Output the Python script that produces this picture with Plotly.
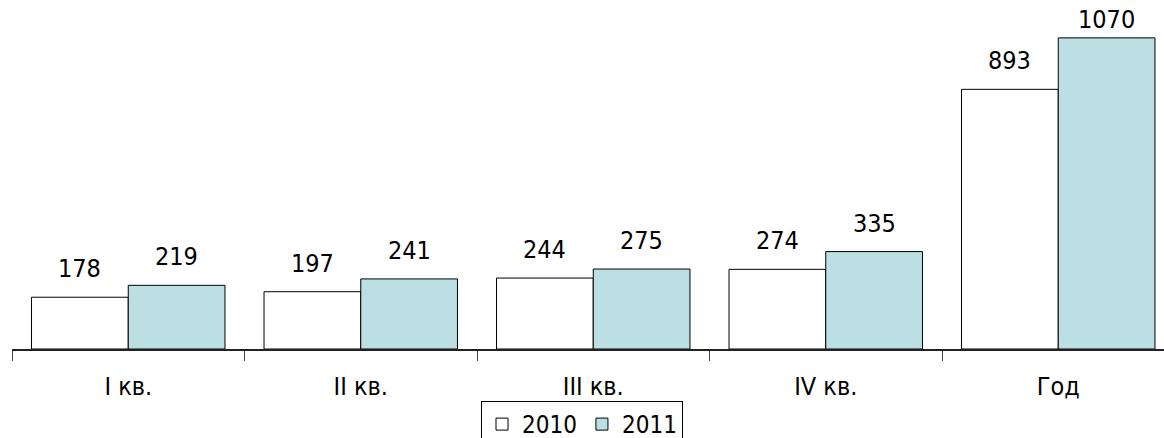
import plotly.graph_objects as go

categories = ["I кв.", "II кв.", "III кв.", "IV кв.", "Год"]
values_2010 = [178, 197, 244, 274, 893]
values_2011 = [219, 241, 275, 335, 1070]
series_names = ["2010", "2011"]

FONT = "DejaVu Sans Condensed, Liberation Sans, sans-serif"
BARGAP = 0.168
BAR_W = (1 - BARGAP) / 2
YMAX = 341 / 0.2925

fig = go.Figure()
fig.add_trace(go.Bar(
    x=categories, y=values_2010, name=series_names[0],
    marker=dict(color="white", line=dict(color="black", width=1)),
))
fig.add_trace(go.Bar(
    x=categories, y=values_2011, name=series_names[1],
    marker=dict(color="#bbdfe2", line=dict(color="black", width=1)),
))

# value labels above the bars
annotations = []
for offset, vals in ((-BAR_W / 2, values_2010), (BAR_W / 2, values_2011)):
    for i, v in enumerate(vals):
        shift = 12 if v / YMAX < 0.9 else 2
        annotations.append(dict(
            x=i + offset, y=v, xref="x", yref="y", text=str(v),
            showarrow=False, yanchor="bottom", xanchor="center", yshift=shift,
            font=dict(size=25, color="black", family=FONT),
        ))

fig.update_layout(
    width=1164, height=438,
    margin=dict(l=12, r=0, t=10, b=87),
    paper_bgcolor="white", plot_bgcolor="white",
    barmode="group", bargap=BARGAP, bargroupgap=0,
    font=dict(family=FONT, size=25, color="black"),
    showlegend=True,
    legend=dict(
        orientation="h", x=0.5, xanchor="center", xref="container",
        y=(438 - 401) / 438, yanchor="top", yref="container",
        bordercolor="black", borderwidth=1, bgcolor="white",
        font=dict(size=24, family=FONT), itemwidth=30,
        traceorder="normal", tracegroupgap=0,
    ),
    annotations=annotations,
)
fig.update_xaxes(
    range=[-0.5, -0.5 + 1152 / 232.5],
    showline=True, linecolor="#222", linewidth=2,
    ticks="outside", tickson="boundaries", ticklen=10, tickcolor="#444", tickwidth=1,
    tickfont=dict(size=25, family=FONT), showgrid=False,
    ticklabelstandoff=14,
)
fig.update_yaxes(range=[0, YMAX], visible=False, showgrid=False)

fig.write_html("out.html")
